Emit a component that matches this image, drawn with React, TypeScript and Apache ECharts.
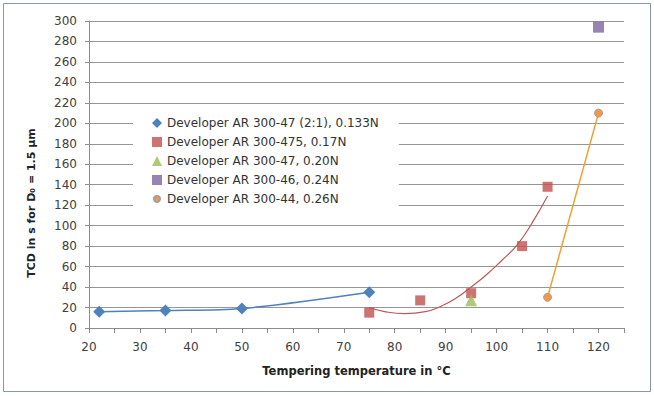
import React, { useEffect, useRef } from "react";
import * as echarts from "echarts";

const xTicks = { min: 20, max: 125, interval: 5 };
const yTicks = { min: 0, max: 300, interval: 20 };

const nameS1 = "Developer AR 300-47 (2:1), 0.133N";
const nameS2 = "Developer AR 300-475, 0.17N";
const nameS3 = "Developer AR 300-47, 0.20N";
const nameS4 = "Developer AR 300-46, 0.24N";
const nameS5 = "Developer AR 300-44, 0.26N";

const s1Data = [
  [22, 16],
  [35, 17],
  [50, 19],
  [75, 35],
];
const s2Data = [
  [75, 15],
  [85, 27],
  [95, 34],
  [105, 80],
  [110, 138],
];
// trendline of series 2
const s2Trend = [
  [75, 20],
  [78, 16],
  [82, 14],
  [86, 16],
  [89, 21],
  [92, 29],
  [95, 40],
  [98, 52],
  [101, 66],
  [104, 81],
  [107, 103],
  [110, 129],
];
const s3Data = [[95, 27]];
const s4Data = [[120, 294]];
const s5Data = [
  [110, 30],
  [120, 210],
];

const xTitle = "Tempering temperature in °C";
const yTitle = "TCD in s for D₀ = 1.5 µm";

const FONT = "DejaVu Sans";
const smallCircleIcon =
  "path://M0 0L0.001 0M10 10L10.001 10M5 2A3 3 0 1 1 5 8A3 3 0 1 1 5 2Z";

export default function App() {
  const ref = useRef<HTMLDivElement>(null);
  useEffect(() => {
    document.body.style.margin = "0";
    if (!ref.current) return;
    const chart = echarts.init(ref.current, undefined, { renderer: "svg" });
    chart.setOption({
      animation: false,
      backgroundColor: "#ffffff",
      grid: { left: 89, right: 30, top: 21, bottom: 68, containLabel: false },
      xAxis: {
        type: "value",
        min: xTicks.min,
        max: xTicks.max,
        interval: xTicks.interval,
        name: xTitle,
        nameLocation: "middle",
        nameGap: 37,
        nameTextStyle: { fontFamily: FONT, fontSize: 11.5, fontWeight: "bold", color: "#222" },
        axisLine: { show: true, lineStyle: { color: "#8c8c8c", width: 1 } },
        axisTick: { show: true, length: 5, lineStyle: { color: "#8c8c8c" } },
        axisLabel: {
          margin: 13,
          fontFamily: FONT,
          fontSize: 12,
          color: "#404040",
          formatter: (v: number) => (v % 10 === 0 && v <= 120 ? String(v) : ""),
        },
        splitLine: { show: false },
      },
      yAxis: {
        type: "value",
        min: yTicks.min,
        max: yTicks.max,
        interval: yTicks.interval,
        axisLine: { show: true, lineStyle: { color: "#8c8c8c", width: 1 } },
        axisTick: { show: true, length: 4, lineStyle: { color: "#8c8c8c" } },
        axisLabel: { margin: 12, fontFamily: FONT, fontSize: 12, color: "#404040" },
        splitLine: { show: true, lineStyle: { color: "#969696", width: 1 } },
      },
      legend: {
        show: true,
        orient: "vertical",
        left: 133,
        top: 108,
        padding: [8, 20, 8, 18],
        itemWidth: 10,
        itemHeight: 10,
        itemGap: 5,
        backgroundColor: "#ffffff",
        textStyle: { fontFamily: FONT, fontSize: 12, color: "#333", lineHeight: 14 },
        data: [
          { name: nameS1, icon: "diamond" },
          { name: nameS2, icon: "rect" },
          { name: nameS3, icon: "triangle" },
          { name: nameS4, icon: "rect" },
          { name: nameS5, icon: smallCircleIcon },
        ],
      },
      graphic: [
        {
          type: "text",
          x: 31,
          y: 203,
          rotation: Math.PI / 2,
          style: {
            text: yTitle,
            fontFamily: FONT,
            fontSize: 11,
            fontWeight: "bold",
            fill: "#222",
            align: "center",
            verticalAlign: "middle",
          },
        },
        {
          type: "rect",
          shape: { x: 3.5, y: 3.5, width: 647, height: 388 },
          style: { fill: "none", stroke: "#8797b2", lineWidth: 1 },
          silent: true,
        },
      ],
      series: [
        {
          name: nameS1,
          type: "line",
          data: s1Data,
          smooth: 0.3,
          symbol: "diamond",
          symbolSize: 12,
          itemStyle: { color: "#4F81BD" },
          lineStyle: { color: "#4F81BD", width: 1.5 },
          z: 3,
        },
        {
          name: "trend",
          type: "line",
          data: s2Trend,
          smooth: 0.5,
          showSymbol: false,
          symbol: "none",
          lineStyle: { color: "#b85a58", width: 1.2 },
          z: 2,
        },
        {
          name: nameS2,
          type: "scatter",
          data: s2Data,
          symbol: "rect",
          symbolSize: 10,
          itemStyle: { color: "#C0504D" },
          z: 3,
        },
        {
          name: nameS3,
          type: "scatter",
          data: s3Data,
          symbol: "triangle",
          symbolSize: 12,
          itemStyle: { color: "#9BBB59" },
          z: 4,
        },
        {
          name: nameS4,
          type: "scatter",
          data: s4Data,
          symbol: "rect",
          symbolSize: 11,
          itemStyle: { color: "#8064A2" },
          z: 3,
        },
        {
          name: nameS5,
          type: "line",
          data: s5Data,
          symbol: "circle",
          symbolSize: 8,
          itemStyle: { color: "#F79646", borderColor: "#a0a0a0", borderWidth: 1 },
          lineStyle: { color: "#F0A030", width: 1.5 },
          z: 3,
        },
      ],
    });
    return () => chart.dispose();
  }, []);
  return <div ref={ref} style={{ width: 654, height: 396 }} />;
}
